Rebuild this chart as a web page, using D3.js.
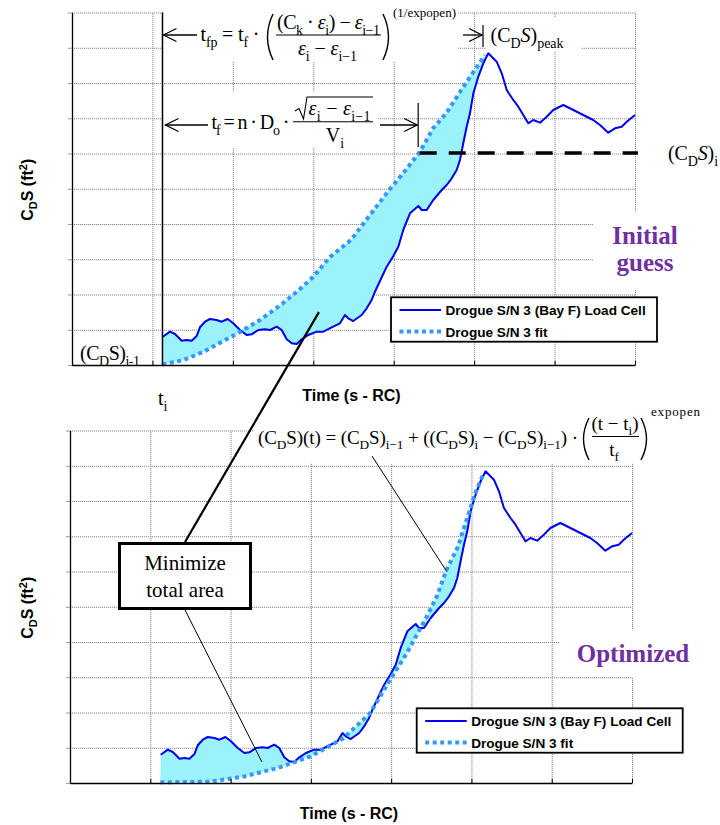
<!DOCTYPE html>
<html>
<head>
<meta charset="utf-8">
<script src="https://cdn.jsdelivr.net/npm/d3@7"></script>
<style>
  body { margin: 0; background: #fff; }
  text { white-space: pre; }
</style>
</head>
<body>
<svg id="chart" width="720" height="825"></svg>
<script>
// -------------------------------------------------------------------------- //
//                                 DATA                                       //
// -------------------------------------------------------------------------- //

// time axis runs 0..7 (7 grid divisions), C_D S axis 0..10 (10 divisions)
var xTicks = [0, 1, 2, 3, 4, 5, 6, 7];
var yTicks = [0, 1, 2, 3, 4, 5, 6, 7, 8, 9, 10];

var tI   = 1.125;   // t_i
var tF   = 4.323;   // t_i + t_f, where the initial fit reaches (CDS)_i
var cdsI = 6.014;   // (CDS)_i level

// measured drag area, load cell
var loadT = [1.13, 1.218, 1.281, 1.364, 1.426, 1.488, 1.550, 1.591, 1.654, 1.716,
             1.799, 1.861, 1.936, 2.005, 2.089, 2.172, 2.234, 2.316, 2.400, 2.462,
             2.545, 2.607, 2.669, 2.732, 2.794, 2.856, 2.938, 3.042, 3.124, 3.229,
             3.332, 3.394, 3.435, 3.497, 3.602, 3.664, 3.726, 3.767, 3.829, 3.913,
             3.995, 4.057, 4.119, 4.202, 4.306, 4.348, 4.410, 4.492, 4.597, 4.659,
             4.721, 4.783, 4.824, 4.865, 4.907, 4.948, 4.990, 5.052, 5.114, 5.176,
             5.280, 5.343, 5.405, 5.487, 5.549, 5.611, 5.673, 5.735, 5.819, 5.902,
             5.984, 6.108, 6.233, 6.357, 6.481, 6.565, 6.668, 6.751, 6.835, 6.897,
             7.000];
var loadV = [0.803, 0.945, 0.879, 0.689, 0.709, 0.689, 0.823, 1.070, 1.228, 1.305,
             1.277, 1.228, 1.305, 1.183, 0.993, 0.851, 0.871, 0.993, 1.013, 0.993,
             1.087, 0.993, 0.729, 0.616, 0.596, 0.729, 0.851, 0.945, 0.945, 1.070,
             1.183, 1.418, 1.325, 1.248, 1.418, 1.609, 1.844, 2.079, 2.383, 2.789,
             3.092, 3.356, 3.830, 4.304, 4.511, 4.397, 4.397, 4.681, 4.965, 5.106,
             5.296, 5.532, 5.816, 6.289, 6.760, 7.140, 7.708, 8.179, 8.559, 8.843,
             8.604, 8.275, 7.801, 7.518, 7.328, 7.092, 6.857, 6.950, 6.874, 7.044,
             7.234, 7.376, 7.234, 7.092, 6.950, 6.809, 6.590, 6.715, 6.760, 6.902,
             7.092];

// fit, initial guess
var initFitT = [1.125, 1.384, 1.632, 1.881, 2.089, 2.337, 2.627, 2.835, 2.996, 3.208,
                3.468, 3.705, 3.943, 4.140, 4.323, 4.492, 4.656, 4.824, 4.990, 5.135];
var initFitV = [0.014, 0.142, 0.369, 0.681, 0.936, 1.277, 1.759, 2.156, 2.496, 3.064,
                3.546, 4.255, 4.965, 5.504, 6.043, 6.723, 7.149, 7.745, 8.312, 8.794];

// fit, optimized
var optFitT = [1.125, 1.744, 2.158, 2.574, 2.989, 3.404, 3.736, 3.986, 4.194, 4.443,
               4.567, 4.689, 4.832, 4.952, 5.047, 5.144];
var optFitV = [0.020, 0.037, 0.179, 0.417, 0.746, 1.268, 1.977, 2.922, 3.679, 4.718,
               5.285, 6.043, 6.704, 7.555, 8.218, 8.738];

var legendLabels = ["Drogue S/N 3 (Bay F) Load Cell", "Drogue S/N 3 fit"];

// -------------------------------------------------------------------------- //
//                                 STYLE                                      //
// -------------------------------------------------------------------------- //

var SERIF = "'Liberation Serif', 'Times New Roman', serif";
var SANS  = "'Liberation Sans', Arial, sans-serif";
var LOAD_COLOR = "#0000ee";
var FIT_COLOR  = "#3399ff";
var FILL_COLOR = "#9cf2fa";
var PURPLE     = "#7030a0";

var svg = d3.select("#chart");
svg.append("rect").attr("width", 720).attr("height", 825).attr("fill", "#fff");

// text with sub/superscripts, parts = [[string, "sub"|"sup"|"it"|""], ...]
// len (optional) spreads the letters to the width the run has in the figure
function mathText (g, x, y, parts, size, anchor, len)
{
    var t = g.append("text")
      .attr("x", x)
      .attr("y", y)
      .attr("font-family", SERIF)
      .attr("font-size", size)
      .attr("fill", "#000")
      .attr("text-anchor", anchor || "start");
    var cur = 0, nChars = 0;
    parts.forEach(function (p) {
        var kind = p[1] || "";
        var shift = kind.indexOf("sub") >= 0 ? size * 0.28 : (kind.indexOf("sup") >= 0 ? -size * 0.42 : 0);
        t.append("tspan")
          .attr("dy", shift - cur)
          .attr("font-size", shift ? size * 0.7 : size)
          .attr("font-style", kind.indexOf("it") >= 0 ? "italic" : null)
          .text(p[0]);
        cur = shift;
        nChars += p[0].length;
    });
    if (len) {
        var nat = t.node().getComputedTextLength();
        var ls = (len - nat) / Math.max(1, nChars - 1);
        t.style("letter-spacing", ls + "px");
        if ((anchor || "start") === "middle") t.attr("x", x + ls / 2);
    }
    return t;
}

function whiteBox (g, x0, y0, x1, y1)
{
    g.append("rect")
      .attr("x", x0).attr("y", y0)
      .attr("width", x1 - x0).attr("height", y1 - y0)
      .attr("fill", "#fff");
}

function arrowHead (g, x, y, dir)
{
    // open "<" or ">" head, dir = -1 points left
    g.append("path")
      .attr("d", "M" + (x - dir * 13) + "," + (y - 6.5) + " L" + x + "," + y + " L" + (x - dir * 13) + "," + (y + 6.5))
      .attr("fill", "none")
      .attr("stroke", "#000")
      .attr("stroke-width", 1.3);
}

function hLine (g, x0, x1, y, w)
{
    g.append("line")
      .attr("x1", x0).attr("x2", x1).attr("y1", y).attr("y2", y)
      .attr("stroke", "#000").attr("stroke-width", w || 1.3);
}

function vLine (g, x, y0, y1, w)
{
    g.append("line")
      .attr("x1", x).attr("x2", x).attr("y1", y0).attr("y2", y1)
      .attr("stroke", "#000").attr("stroke-width", w || 1.3);
}

function bigParen (g, x, y0, y1, dir)
{
    // dir = 1 opening, -1 closing; x is the tip side
    var mid = (y0 + y1) / 2;
    g.append("path")
      .attr("d", "M" + x + "," + y0 + " Q" + (x - dir * 11) + "," + mid + " " + x + "," + y1)
      .attr("fill", "none")
      .attr("stroke", "#000")
      .attr("stroke-width", 1.4);
}

// -------------------------------------------------------------------------- //
//                                 PANEL                                      //
// -------------------------------------------------------------------------- //

function drawPanel (box, fitT, fitV, masks, legendPos)
{
    var x = d3.scaleLinear().domain([0, 7]).range([box.left, box.right]);
    var y = d3.scaleLinear().domain([0, 10]).range([box.bottom, box.top]);
    var g = svg.append("g");

    // gridlines
    g.append("g")
      .attr("transform", "translate(0," + box.bottom + ")")
      .call(d3.axisBottom(x).tickValues(xTicks).tickSize(-(box.bottom - box.top)).tickFormat(""))
      .call(function (s) { s.select(".domain").remove(); })
      .selectAll("line")
        .attr("stroke", "#8a8a8a")
        .attr("stroke-dasharray", "1.2,0.8");

    g.append("g")
      .attr("transform", "translate(" + box.left + ",0)")
      .call(d3.axisLeft(y).tickValues(yTicks).tickSize(-(box.right - box.left)).tickFormat(""))
      .call(function (s) { s.select(".domain").remove(); })
      .selectAll("line")
        .attr("stroke", "#8a8a8a")
        .attr("stroke-dasharray", "1.2,0.8");

    // white text boxes hide the grid
    masks.forEach(function (m) { whiteBox(g, m[0], m[1], m[2], m[3]); });

    // area between load cell and fit
    var fitEnd = fitT[fitT.length - 1];
    var upper = loadT.map(function (t, i) { return [t, loadV[i]]; })
                     .filter(function (d) { return d[0] <= fitEnd + 0.001; });
    var lower = fitT.map(function (t, i) { return [t, fitV[i]]; }).reverse();

    var line = d3.line()
      .x(function (d) { return x(d[0]); })
      .y(function (d) { return y(d[1]); });

    g.append("path")
      .attr("d", line(upper.concat(lower)) + "Z")
      .attr("fill", FILL_COLOR)
      .attr("stroke", "none");

    // load cell
    g.append("path")
      .attr("d", line(loadT.map(function (t, i) { return [t, loadV[i]]; })))
      .attr("fill", "none")
      .attr("stroke", LOAD_COLOR)
      .attr("stroke-width", 2)
      .attr("stroke-linejoin", "round");

    // fit
    g.append("path")
      .attr("d", line(fitT.map(function (t, i) { return [t, fitV[i]]; })))
      .attr("fill", "none")
      .attr("stroke", FIT_COLOR)
      .attr("stroke-width", 4)
      .attr("stroke-dasharray", "4,3.5");

    // axes
    g.append("g")
      .attr("transform", "translate(0," + box.bottom + ")")
      .call(d3.axisBottom(x).tickValues(xTicks).tickSizeInner(-4).tickSizeOuter(0).tickFormat(""))
      .call(function (s) {
          s.select(".domain").attr("stroke", "#000").attr("stroke-width", 1.3);
          s.selectAll("line").attr("stroke", "#000");
      });

    g.append("g")
      .attr("transform", "translate(" + box.left + ",0)")
      .call(d3.axisLeft(y).tickValues(yTicks).tickSizeInner(4).tickSizeOuter(0).tickFormat(""))
      .call(function (s) {
          s.select(".domain").attr("stroke", "#000").attr("stroke-width", 1.3);
          s.selectAll("line").attr("stroke", "#999");
      });

    // axis titles
    g.append("text")
      .attr("x", (box.left + box.right) / 2 - 2)
      .attr("y", box.bottom + 36)
      .attr("text-anchor", "middle")
      .attr("font-family", SANS)
      .attr("font-weight", "bold")
      .attr("font-size", 16)
      .text("Time (s - RC)");

    var yl = g.append("text")
      .attr("transform", "translate(33," + ((box.top + box.bottom) / 2 + 1) + ") rotate(-90)")
      .attr("text-anchor", "middle")
      .attr("font-family", SANS)
      .attr("font-weight", "bold")
      .attr("font-size", 16);
    yl.append("tspan").text("C");
    yl.append("tspan").attr("dy", 4).attr("font-size", 11).text("D");
    yl.append("tspan").attr("dy", -4).text("S (ft");
    yl.append("tspan").attr("dy", -6).attr("font-size", 11).text("2");
    yl.append("tspan").attr("dy", 6).text(")");

    // legend
    var lg = g.append("g").attr("transform", "translate(" + legendPos[0] + "," + legendPos[1] + ")");
    lg.append("rect")
      .attr("width", 266).attr("height", 44.4)
      .attr("fill", "#fff")
      .attr("stroke", "#000")
      .attr("stroke-width", 1.8);
    var styles = [
        { color: LOAD_COLOR, width: 2, dash: null },
        { color: FIT_COLOR,  width: 4, dash: "4,3.5" }
    ];
    legendLabels.forEach(function (lab, i) {
        var ly = 12.7 + i * 21.6;
        lg.append("line")
          .attr("x1", 8.5).attr("x2", 50).attr("y1", ly).attr("y2", ly)
          .attr("stroke", styles[i].color)
          .attr("stroke-width", styles[i].width)
          .attr("stroke-dasharray", styles[i].dash);
        lg.append("text")
          .attr("x", 54.5).attr("y", ly + 5)
          .attr("font-family", SANS)
          .attr("font-weight", "bold")
          .attr("font-size", 13.6)
          .text(lab);
    });

    return { x: x, y: y, g: g };
}

// -------------------------------------------------------------------------- //
//                               TOP PANEL                                    //
// -------------------------------------------------------------------------- //

var topP = drawPanel(
    { left: 72, right: 635, top: 12.5, bottom: 365 },
    initFitT, initFitV,
    [[164, 0, 458, 62], [164, 92, 378, 148], [486, 18, 581, 51],
     [593, 212, 700, 290], [78, 340, 145, 364]],
    [391, 297.3]);

var ann = svg.append("g");
var xTi = topP.x(tI);

// t_i line
vLine(ann, xTi, topP.y(10), topP.y(0), 1.5);

// (CDS)_i dashed level
ann.append("line")
  .attr("x1", topP.x(tF)).attr("x2", topP.x(7) + 3)
  .attr("y1", topP.y(cdsI)).attr("y2", topP.y(cdsI))
  .attr("stroke", "#000")
  .attr("stroke-width", 3.3)
  .attr("stroke-dasharray", "17,12");

// t_fp formula
arrowHead(ann, xTi + 1, 35, -1);
hLine(ann, xTi + 1, 197, 35);
mathText(ann, 200.5, 41, [["t"], ["fp", "sub"], [" = t"], ["f", "sub"], [" ·"]], 20, "start", 59);
bigParen(ann, 273, 14, 60, 1);
mathText(ann, 328.5, 29, [["(C"], ["k", "sub"], [" · "], ["ε", "it"], ["i", "sub"], [") − "], ["ε", "it"], ["i−1", "sub"]], 20, "middle", 103);
hLine(ann, 276, 381, 35, 1.1);
mathText(ann, 327.5, 55, [["ε", "it"], ["i", "sub"], [" − "], ["ε", "it"], ["i−1", "sub"]], 20, "middle", 59);
bigParen(ann, 383, 14, 60, -1);
mathText(ann, 393, 17, [["(1/expopen)"]], 13, "start", 63);

// peak marker
var xPeak = topP.x(initFitT[initFitT.length - 1]) - 2;
hLine(ann, 463, xPeak - 1, 35);
arrowHead(ann, xPeak - 1, 35, 1);
vLine(ann, xPeak, 25, 47, 1.2);
mathText(ann, 490.5, 42, [["(C"], ["D", "sub"], ["S", "it"], [")"], ["peak", "sub"]], 20, "start", 73);

// t_f formula
arrowHead(ann, xTi + 3, 125, -1);
hLine(ann, xTi + 3, 208, 125);
mathText(ann, 211.5, 129, [["t"], ["f", "sub"], [" = n · D"], ["o", "sub"], [" ·"]], 20, "start", 78);
ann.append("path")
  .attr("d", "M295,111 L299,108.5 L303.5,119 L307,97 L373,97")
  .attr("fill", "none").attr("stroke", "#000").attr("stroke-width", 1.1);
mathText(ann, 339.5, 115, [["ε", "it"], ["i", "sub"], [" − "], ["ε", "it"], ["i−1", "sub"]], 20, "middle", 62);
hLine(ann, 293, 373, 121.7, 1.1);
mathText(ann, 335, 142, [["V"], ["i", "sub"]], 20, "middle");
var xTf = topP.x(tF) - 1.5;
hLine(ann, 380, xTf - 1, 125);
arrowHead(ann, xTf - 1, 125, 1);
vLine(ann, xTf, 103, 147, 1.2);

// level labels
mathText(ann, 668, 160, [["(C"], ["D", "sub"], ["S", "it"], [")"], ["i", "sub"]], 20, "start", 50);
mathText(ann, 80, 360, [["(C"], ["D", "sub"], ["S)"], ["i-1", "sub"]], 20, "start", 60);
mathText(ann, 158, 405, [["t"], ["i", "sub"]], 20);

ann.append("text")
  .attr("x", 645).attr("y", 244)
  .attr("text-anchor", "middle")
  .attr("font-family", SERIF).attr("font-weight", "bold").attr("font-size", 25)
  .attr("fill", PURPLE)
  .text("Initial");
ann.append("text")
  .attr("x", 645).attr("y", 271)
  .attr("text-anchor", "middle")
  .attr("font-family", SERIF).attr("font-weight", "bold").attr("font-size", 25)
  .attr("fill", PURPLE)
  .text("guess");

// -------------------------------------------------------------------------- //
//                              BOTTOM PANEL                                  //
// -------------------------------------------------------------------------- //

var botP = drawPanel(
    { left: 70, right: 632, top: 430.5, bottom: 783 },
    optFitT, optFitV,
    [[253, 418, 700, 463], [560, 630, 720, 677]],
    [416.7, 708.3]);

var ann2 = svg.append("g");

// fit equation
mathText(ann2, 258, 444,
  [["(C"], ["D", "sub"], ["S)(t) = (C"], ["D", "sub"], ["S)"], ["i−1", "sub"], [" + ((C"], ["D", "sub"], ["S)"], ["i", "sub"],
   [" − (C"], ["D", "sub"], ["S)"], ["i−1", "sub"], [") ·"]], 19, "start", 320);
bigParen(ann2, 589, 418, 460, 1);
mathText(ann2, 615, 430, [["(t − t"], ["i", "sub"], [")"]], 19, "middle", 47);
hLine(ann2, 592, 639, 436.5, 1.1);
mathText(ann2, 614, 456, [["t"], ["f", "sub"]], 19, "middle");
bigParen(ann2, 641, 418, 460, -1);
mathText(ann2, 651, 416, [["expopen"]], 13, "start", 49);

ann2.append("text")
  .attr("x", 633).attr("y", 662)
  .attr("text-anchor", "middle")
  .attr("font-family", SERIF).attr("font-weight", "bold").attr("font-size", 25)
  .attr("fill", PURPLE)
  .text("Optimized");

// leader lines
ann2.append("line")
  .attr("x1", 372).attr("y1", 456)
  .attr("x2", botP.x(4.695)).attr("y2", botP.y(5.99))
  .attr("stroke", "#000").attr("stroke-width", 1);

ann2.append("line")
  .attr("x1", 185).attr("y1", 542)
  .attr("x2", topP.x(3.07)).attr("y2", topP.y(1.5))
  .attr("stroke", "#000").attr("stroke-width", 2.2);

ann2.append("line")
  .attr("x1", 185).attr("y1", 610)
  .attr("x2", botP.x(2.39)).attr("y2", botP.y(0.6))
  .attr("stroke", "#000").attr("stroke-width", 1);

// "Minimize total area" box
ann2.append("rect")
  .attr("x", 119.5).attr("y", 543.5)
  .attr("width", 131).attr("height", 65)
  .attr("fill", "#fff")
  .attr("stroke", "#000")
  .attr("stroke-width", 3);
ann2.append("text")
  .attr("x", 185).attr("y", 570)
  .attr("text-anchor", "middle")
  .attr("font-family", SERIF).attr("font-size", 21)
  .text("Minimize");
ann2.append("text")
  .attr("x", 185).attr("y", 597)
  .attr("text-anchor", "middle")
  .attr("font-family", SERIF).attr("font-size", 21)
  .text("total area");
</script>
</body>
</html>
